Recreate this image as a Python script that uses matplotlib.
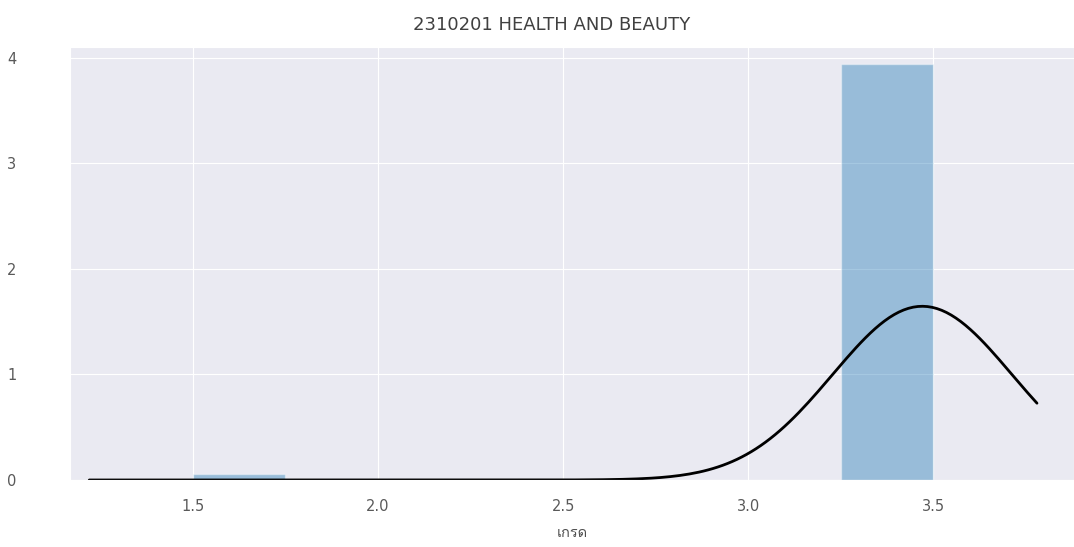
import numpy as np
import matplotlib
matplotlib.use("Agg")
import matplotlib.pyplot as plt
import seaborn as sns
from matplotlib import font_manager
from matplotlib.ft2font import FT2Font

# grades in the course and how many students got each one
grades = [1.5, 3.5]
counts = [1, 66]
bin_edges = [1.5, 1.75, 2.0, 2.25, 2.5, 2.75, 3.0, 3.25, 3.5]

title = "2310201 HEALTH AND BEAUTY"
x_label = "เกรด"
x_ticks = [1.5, 2.0, 2.5, 3.0, 3.5]
y_ticks = [0, 1, 2, 3, 4]


def find_thai_font():
  # first installed family that has a Thai glyph
  for f in font_manager.fontManager.ttflist:
    try:
      if FT2Font(f.fname).get_char_index(0x0E40):
        return f.name
    except Exception:
      pass
  return None


sns.set_style("darkgrid")
thai = find_thai_font()
families = ["DejaVu Sans"]
if thai:
  families = ["DejaVu Sans", thai]
plt.rcParams["font.family"] = families

values = np.repeat(grades, counts)

fig = plt.figure(figsize=(10.74, 5.47), dpi=100)
ax = fig.add_axes([0.0652, 0.1225, 0.9348, 0.7915])

# histogram (density), like distplot
ax.hist(values, bins=bin_edges, density=True, color="C0", alpha=0.4)

# normal fit drawn in black, a little past the data on both sides
mu = values.mean()
sigma = values.std()
extend = 0.28
xs = np.linspace(values.min() - extend, values.max() + extend, 200)
pdf = np.exp(-0.5 * ((xs - mu) / sigma) ** 2) / (sigma * np.sqrt(2 * np.pi))
ax.plot(xs, pdf, color="black", lw=2)

ax.set_xlim(1.168, 3.88)
ax.set_ylim(0, 4.1)
ax.set_xticks(x_ticks)
ax.set_yticks(y_ticks)
ax.tick_params(axis="x", pad=10, labelsize=10.5, labelcolor="0.35")
ax.tick_params(axis="y", pad=35, labelsize=10.5, labelcolor="0.35")
ax.set_xlabel(x_label, fontsize=10.5, color="0.3", labelpad=8)
ax.set_title(title, fontsize=13, color="0.25", pad=12, x=0.48)

plt.savefig("out.png", dpi=100)
